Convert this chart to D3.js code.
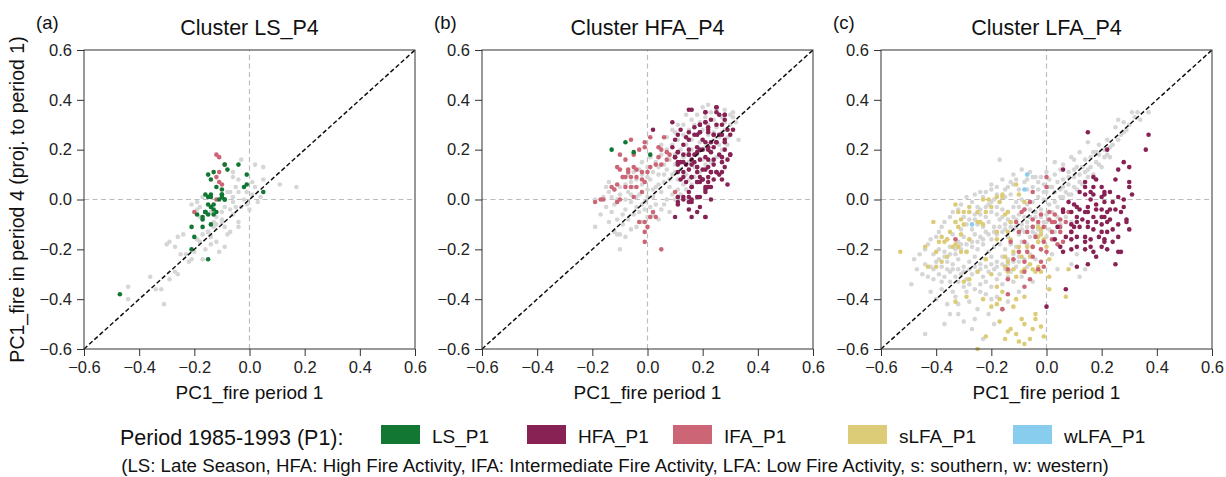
<!DOCTYPE html>
<html>
<head>
<meta charset="utf-8">
<script src="https://cdn.jsdelivr.net/npm/d3@7"></script>
<style>
  body { margin: 0; background: #fff; }
  svg { font-family: "Liberation Sans", Arial, sans-serif; }
</style>
</head>
<body>
<svg id="chart" width="1226" height="477"></svg>
<script>
// tick values shared by both axes
var ticks = [-0.6, -0.4, -0.2, 0.0, 0.2, 0.4, 0.6];

// legend categories (period 1 clusters)
var legendNames = ["LS_P1", "HFA_P1", "IFA_P1", "sLFA_P1", "wLFA_P1"];
var legendColors = ["#117733", "#882255", "#CC6677", "#DDCC77", "#88CCEE"];
var grayColor = "#d6d6d6";

// panel (a) Cluster LS_P4  [PC1 period 1, PC1 period 4]
var aGray = [[-0.03,0.16],[0.02,0.14],[0.05,0.13],[-0.06,0.11],[-0.04,0.08],[-0.06,0.09],[0.05,0.08],[0.01,0.07],[0.11,0.06],[0.17,0.05],
  [-0.07,0.03],[-0.08,0.03],[-0.06,0.01],[-0.04,0.03],[-0.01,0.03],[0.01,0.02],[0.03,-0.01],[-0.01,-0.02],[0.00,-0.04],[-0.05,-0.03],
  [-0.07,-0.04],[-0.09,-0.03],[-0.10,-0.05],[-0.12,-0.07],[-0.14,-0.05],[-0.21,-0.02],[-0.19,-0.04],[-0.18,-0.03],[-0.18,-0.07],[-0.13,-0.09],
  [-0.12,-0.10],[-0.10,-0.09],[-0.04,-0.09],[-0.04,-0.11],[-0.07,-0.13],[-0.13,-0.11],[-0.15,-0.13],[-0.17,-0.14],[-0.19,-0.16],[-0.18,-0.17],
  [-0.14,-0.18],[-0.12,-0.17],[-0.09,-0.19],[-0.11,-0.21],[-0.16,-0.20],[-0.24,-0.14],[-0.26,-0.15],[-0.27,-0.19],[-0.29,-0.17],[-0.30,-0.18],
  [-0.25,-0.22],[-0.22,-0.25],[-0.21,-0.24],[-0.17,-0.24],[-0.27,-0.29],[-0.26,-0.30],[-0.29,-0.32],[-0.36,-0.31],[-0.34,-0.36],[-0.32,-0.36],
  [-0.44,-0.35],[-0.44,-0.40],[-0.31,-0.42],[-0.23,-0.22],[-0.20,-0.21],[-0.15,-0.13],[-0.09,-0.11],[-0.06,-0.06],[-0.03,-0.03],[-0.02,0.00],
  [0.02,0.05],[0.04,0.01],[-0.05,0.05],[-0.06,-0.01],[-0.17,0.01],[-0.19,-0.01],[-0.10,-0.08],[-0.08,-0.14],[-0.14,-0.15]];
var aGreen = [[-0.47,-0.38],[-0.04,0.14],[-0.09,0.14],[-0.08,0.12],[-0.13,0.11],[-0.15,0.10],[-0.14,0.08],[-0.01,0.10],[-0.02,0.05],[-0.01,0.06],
  [0.05,0.03],[-0.12,0.05],[-0.10,0.04],[-0.10,0.02],[-0.10,0.02],[-0.14,0.02],[-0.16,0.02],[-0.15,0.01],[-0.14,0.01],[-0.11,0.00],
  [-0.09,0.00],[-0.09,0.00],[-0.13,-0.02],[-0.15,-0.02],[-0.14,-0.03],[-0.16,-0.05],[-0.16,-0.05],[-0.19,-0.06],[-0.15,-0.06],[-0.13,-0.06],
  [-0.12,-0.05],[-0.17,-0.08],[-0.14,-0.10],[-0.21,-0.11],[-0.17,-0.11],[-0.20,-0.15],[-0.21,-0.20],[-0.15,-0.24],[-0.16,-0.05],[-0.17,-0.07],
  [-0.13,-0.04],[-0.10,0.01]];
var aRose = [[-0.12,0.18],[-0.11,0.17],[-0.09,0.14],[-0.11,0.11],[-0.12,0.09],[-0.11,0.07],[-0.10,0.06],[-0.12,0.00],[-0.20,-0.05]];

// panel (b) Cluster HFA_P4
var bGray = [[-0.19,-0.11],[-0.10,-0.20],[-0.11,-0.14],[-0.10,-0.14],[-0.09,-0.10],[-0.15,0.05],[-0.14,0.07],[-0.19,0.00],[0.31,0.35],[0.33,0.24],
  [0.31,0.28],[0.32,0.31],[0.30,0.34],[0.28,0.36],[-0.12,-0.02],[-0.10,0.02],[-0.08,-0.04],[-0.07,0.03],[-0.06,-0.01],[-0.05,0.05],
  [-0.04,-0.03],[-0.03,0.02],[-0.02,0.06],[-0.01,-0.01],[0.00,0.04],[0.01,0.08],[0.02,0.01],[0.03,0.05],[0.04,0.10],[0.05,0.03],
  [0.06,0.07],[0.07,0.12],[0.08,0.05],[0.09,0.10],[0.10,0.14],[0.11,0.08],[0.12,0.12],[0.13,0.17],[0.14,0.10],[0.15,0.15],
  [0.16,0.20],[0.17,0.13],[0.18,0.18],[0.19,0.23],[0.20,0.16],[0.21,0.21],[0.22,0.26],[0.23,0.19],[0.24,0.24],[0.25,0.29],
  [0.26,0.22],[0.27,0.27],[0.28,0.31],[0.29,0.25],[0.30,0.30],[0.31,0.33],[0.27,0.33],[0.26,0.34],[0.24,0.32],[0.22,0.30],
  [0.20,0.28],[0.18,0.26],[0.16,0.24],[0.14,0.22],[0.12,0.20],[0.10,0.18],[0.08,0.16],[0.06,0.14],[0.04,0.13],[0.02,0.11],
  [0.00,0.09],[-0.02,0.10],[-0.04,0.08],[-0.06,0.07],[-0.08,0.06],[-0.10,0.05],[-0.12,0.04],[-0.14,0.03],[-0.16,0.01],[-0.13,-0.05],
  [-0.11,-0.08],[-0.09,-0.06],[-0.07,-0.08],[-0.05,-0.06],[-0.03,-0.05],[-0.01,-0.04],[0.01,-0.03],[0.03,-0.02],[0.05,-0.04],[0.07,0.00],
  [0.09,0.02],[0.11,0.04],[0.13,0.06],[0.15,0.08],[0.17,0.09],[0.19,0.11],[0.21,0.14],[0.23,0.15],[0.25,0.17],[0.27,0.20],
  [0.29,0.22],[0.03,0.15],[0.05,0.18],[0.07,0.20],[0.09,0.22],[0.11,0.24],[0.13,0.26],[0.15,0.28],[0.17,0.30],[0.19,0.31],
  [0.21,0.33],[0.23,0.35],[0.25,0.36],[0.00,0.13],[-0.02,0.15],[0.01,0.17],[0.06,0.10],[0.08,0.08],[0.10,0.11],[0.12,0.15],
  [0.14,0.18],[0.16,0.16],[0.18,0.21],[0.20,0.24],[0.22,0.22],[0.24,0.27],[0.26,0.25],[0.28,0.28],[-0.03,0.12],[-0.05,0.11],
  [-0.07,0.10],[-0.09,0.09],[-0.11,0.00],[-0.13,0.01],[-0.15,-0.03],[-0.08,0.00],[-0.06,0.02],[-0.04,0.01],[-0.02,-0.02],[0.00,0.01],
  [0.02,0.04],[0.04,0.06],[0.02,-0.06],[0.04,-0.08],[0.00,-0.07],[-0.02,-0.09],[-0.04,-0.11],[-0.06,-0.12],[-0.08,-0.15],[-0.12,-0.13],
  [-0.14,-0.09],[-0.17,-0.06],[0.06,-0.02],[0.08,-0.05],[0.10,0.00],[0.12,0.02],[0.14,0.04],[0.16,0.06],[0.05,0.22],[0.07,0.25],
  [0.10,0.27],[0.13,0.30],[0.16,0.32],[0.18,0.34],[0.20,0.37],[0.22,0.38],[0.14,0.34],[0.11,0.30],[0.09,0.28]];
var bWine = [[0.16,0.36],[0.09,0.31],[0.02,0.28],[0.12,0.28],[0.21,0.35],[0.25,0.37],[0.26,0.34],[0.28,0.34],[0.23,0.32],[0.21,0.31],
  [0.19,0.30],[0.27,0.30],[0.29,0.28],[0.27,0.26],[0.24,0.26],[0.22,0.28],[0.19,0.27],[0.18,0.26],[0.15,0.24],[0.14,0.25],
  [0.11,0.26],[0.10,0.24],[0.09,0.21],[0.13,0.22],[0.11,0.19],[0.13,0.18],[0.10,0.17],[0.12,0.15],[0.15,0.20],[0.17,0.18],
  [0.19,0.20],[0.21,0.23],[0.23,0.23],[0.25,0.23],[0.28,0.24],[0.30,0.18],[0.28,0.20],[0.26,0.18],[0.23,0.19],[0.21,0.17],
  [0.19,0.16],[0.17,0.15],[0.15,0.12],[0.16,0.09],[0.18,0.11],[0.20,0.12],[0.22,0.13],[0.24,0.14],[0.26,0.10],[0.25,0.11],
  [0.23,0.11],[0.22,0.09],[0.20,0.08],[0.22,0.05],[0.21,0.03],[0.19,0.07],[0.18,0.07],[0.16,0.05],[0.15,0.03],[0.16,0.00],
  [0.15,-0.01],[0.11,-0.01],[0.13,0.01],[0.18,-0.05],[0.16,-0.07],[0.21,-0.07],[0.23,0.00],[0.29,0.06],[0.30,0.18],[0.27,0.15],
  [0.18,0.13],[0.14,0.14],[0.11,0.14],[0.16,0.16],[0.15,0.18],[0.18,0.21],[0.24,0.21],[0.22,0.20],[0.20,0.24],[0.22,0.29],
  [0.25,0.30],[0.19,0.09],[0.24,0.08],[0.27,0.08],[0.21,0.05],[0.19,0.01],[0.12,0.08],[0.13,0.11],[0.11,0.11],
  [0.25,0.37],[0.15,0.36],[0.21,0.35],[0.28,0.34],[0.28,0.32],[0.25,0.35],[0.21,0.31],[0.19,0.30],[0.17,0.29],[0.15,0.27],
  [0.17,0.26],[0.19,0.27],[0.22,0.27],[0.24,0.26],[0.26,0.26],[0.30,0.26],[0.31,0.28],[0.28,0.23],[0.25,0.23],[0.22,0.21],
  [0.20,0.20],[0.18,0.19],[0.15,0.18],[0.11,0.19],[0.10,0.17],[0.11,0.15],[0.13,0.15],[0.16,0.14],[0.18,0.13],[0.21,0.12],
  [0.23,0.11],[0.25,0.11],[0.27,0.11],[0.28,0.13],[0.29,0.16],[0.27,0.17],[0.24,0.16],[0.22,0.16],[0.20,0.08],[0.22,0.07],
  [0.23,0.05],[0.21,0.04],[0.18,0.01],[0.15,0.01],[0.13,0.00],[0.11,0.01],[0.11,-0.02],[0.16,-0.01],[0.19,-0.03],[0.15,-0.04],
  [0.10,-0.07],[0.21,-0.07],[0.18,0.07],[0.16,0.09],[0.14,0.07],[0.13,0.09],[0.16,0.05]];
var bRose = [[-0.06,0.24],[-0.10,0.18],[-0.08,0.16],[-0.05,0.18],[-0.03,0.20],[-0.01,0.21],[-0.01,0.23],[0.01,0.25],[0.06,0.25],[0.05,0.20],
  [0.07,0.19],[0.04,0.17],[0.03,0.14],[0.01,0.13],[0.00,0.11],[-0.02,0.11],[-0.04,0.12],[-0.05,0.13],[-0.07,0.12],[-0.10,0.12],
  [-0.11,0.13],[-0.09,0.09],[-0.08,0.09],[-0.06,0.09],[-0.04,0.09],[-0.02,0.08],[-0.01,0.07],[-0.11,0.06],[-0.13,0.05],[-0.12,0.04],
  [-0.04,0.05],[-0.02,0.03],[-0.05,0.01],[-0.10,0.00],[-0.11,-0.01],[-0.16,0.00],[-0.17,0.00],[-0.19,-0.01],[0.02,-0.05],[0.03,-0.07],
  [0.01,-0.07],[-0.03,-0.09],[-0.01,-0.09],[0.00,-0.11],[-0.01,-0.13],[-0.01,-0.17],[0.05,-0.20],[0.11,0.01],[0.10,0.03],[0.07,0.16],
  [0.08,0.18],[0.05,0.14],[0.04,0.21],[-0.06,0.05],[-0.08,0.05],[-0.07,0.11]];
var bGreen = [[-0.13,0.20],[-0.08,0.23],[-0.05,0.19],[0.01,0.18]];

// panel (c) Cluster LFA_P4
var cGray = [[-0.49,-0.34],[-0.44,-0.54],[-0.37,-0.50],[-0.35,-0.46],[0.12,-0.31],[0.14,-0.28],[-0.17,0.16],[0.15,0.23],[0.26,0.32],[0.31,0.35],
  [0.33,0.35],[0.37,0.35],[0.22,0.24],[0.21,0.20],[0.12,0.19],[0.09,0.17],[0.25,0.29],[0.28,0.31],[0.19,0.22],[0.17,0.19],
  [0.14,0.16],[0.11,0.13],[0.08,0.11],[0.05,0.12],[0.03,0.10],[0.01,0.08],[-0.01,0.06],[-0.03,0.07],[-0.05,0.05],[-0.07,0.04],
  [0.00,0.03],[0.02,0.05],[0.04,0.07],[0.06,0.08],[0.08,0.06],[0.10,0.09],[0.12,0.10],[0.14,0.11],[0.16,0.13],[0.18,0.15],
  [0.13,0.06],[0.11,0.04],[0.09,0.02],[0.07,0.03],[0.05,0.01],[0.03,-0.01],[0.01,-0.02],[-0.01,0.00],[-0.03,0.01],[-0.05,-0.01],
  [-0.07,-0.02],[-0.09,0.00],[-0.11,-0.01],[-0.13,0.02],[-0.15,0.01],[-0.17,-0.01],[-0.19,0.00],[-0.21,-0.02],[-0.23,0.01],[-0.25,-0.03],
  [-0.14,0.05],[-0.10,0.04],[-0.12,0.06],[-0.08,0.07],[-0.02,-0.04],[0.00,-0.06],[0.02,-0.05],[0.04,-0.07],[0.06,-0.04],[-0.04,-0.05],
  [-0.06,-0.07],[-0.08,-0.04],[-0.10,-0.06],[-0.12,-0.03],[-0.14,-0.05],[-0.16,-0.04],[-0.18,-0.06],[-0.20,-0.05],[-0.22,-0.07],[-0.24,-0.06],
  [-0.26,-0.08],[-0.28,-0.05],[-0.30,-0.07],[-0.01,-0.09],[-0.03,-0.10],[-0.05,-0.11],[-0.07,-0.09],[-0.09,-0.10],[-0.11,-0.08],[-0.13,-0.09],
  [-0.15,-0.10],[-0.17,-0.08],[-0.19,-0.11],[-0.21,-0.09],[-0.23,-0.11],[-0.25,-0.10],[-0.27,-0.12],[-0.29,-0.10],[-0.31,-0.12],[-0.33,-0.09],
  [0.01,-0.12],[-0.02,-0.13],[-0.04,-0.14],[-0.06,-0.15],[-0.08,-0.13],[-0.10,-0.14],[-0.12,-0.12],[-0.14,-0.15],[-0.16,-0.13],[-0.18,-0.14],
  [-0.20,-0.16],[-0.22,-0.13],[-0.24,-0.15],[-0.26,-0.14],[-0.28,-0.16],[-0.30,-0.15],[-0.32,-0.17],[-0.34,-0.14],[-0.36,-0.16],[-0.03,-0.17],
  [-0.05,-0.19],[-0.07,-0.18],[-0.09,-0.17],[-0.11,-0.19],[-0.13,-0.18],[-0.15,-0.20],[-0.17,-0.18],[-0.19,-0.19],[-0.21,-0.21],[-0.23,-0.18],
  [-0.25,-0.20],[-0.27,-0.19],[-0.29,-0.21],[-0.31,-0.20],[-0.33,-0.22],[-0.35,-0.19],[-0.37,-0.21],[-0.39,-0.20],[-0.41,-0.22],[-0.06,-0.22],
  [-0.08,-0.24],[-0.10,-0.23],[-0.12,-0.22],[-0.14,-0.24],[-0.16,-0.23],[-0.18,-0.25],[-0.20,-0.23],[-0.22,-0.24],[-0.24,-0.26],[-0.26,-0.23],
  [-0.28,-0.25],[-0.30,-0.27],[-0.32,-0.24],[-0.34,-0.26],[-0.36,-0.25],[-0.38,-0.27],[-0.40,-0.25],[-0.42,-0.27],[-0.44,-0.26],[-0.11,-0.27],
  [-0.13,-0.29],[-0.15,-0.28],[-0.17,-0.30],[-0.19,-0.28],[-0.21,-0.29],[-0.23,-0.31],[-0.25,-0.29],[-0.27,-0.30],[-0.29,-0.32],[-0.31,-0.30],
  [-0.33,-0.31],[-0.35,-0.29],[-0.37,-0.31],[-0.39,-0.30],[-0.41,-0.32],[-0.45,-0.30],[-0.47,-0.28],[-0.12,-0.33],[-0.16,-0.34],[-0.20,-0.35],
  [-0.24,-0.34],[-0.26,-0.36],[-0.30,-0.35],[-0.34,-0.37],[-0.38,-0.36],[-0.22,-0.38],[-0.18,-0.39],[-0.28,-0.41],[-0.32,-0.42],[-0.25,-0.44],
  [-0.21,-0.46],[-0.19,-0.50],[-0.27,-0.52],[-0.23,-0.56],[0.06,0.14],[0.10,0.16],[0.00,0.11],[-0.04,0.09],[0.15,0.09],[0.17,0.10],
  [0.20,0.13],[0.23,0.17],[0.19,0.18],[0.27,0.26],[0.29,0.28],[0.24,0.22],[0.03,0.15],[-0.02,0.09],[0.07,-0.07],[0.09,-0.09],
  [0.05,-0.10],[0.03,-0.13],[0.00,-0.15],[-0.02,-0.20],[-0.04,-0.24],[-0.07,-0.27],[0.02,-0.22],[0.04,-0.28],[-0.09,-0.31],[-0.05,-0.33],
  [-0.10,-0.37],[-0.14,-0.41],[0.09,-0.26],[0.11,-0.22],[-0.16,0.08],[-0.20,0.04],[-0.24,0.03],[-0.18,0.02],[-0.12,0.10],[-0.06,0.11],
  [-0.09,0.12],[0.05,0.04],[-0.27,-0.01],[-0.32,-0.04],[-0.35,-0.07],[-0.38,-0.11],[-0.40,-0.15],[-0.43,-0.18],[-0.46,-0.22],[-0.48,-0.24],
  [-0.42,-0.37],[-0.40,-0.40],[-0.36,-0.42],[-0.32,-0.46],
  [-0.44,-0.20],[-0.42,-0.16],[-0.39,-0.13],[-0.37,-0.09],[-0.34,-0.05],[-0.31,-0.02],[-0.29,0.01],[-0.26,0.02],[-0.22,0.03],[-0.20,0.06],
  [-0.18,0.05],[-0.15,0.04],[-0.13,0.07],[-0.11,0.08],[-0.07,0.08],[-0.05,0.09],[-0.03,0.04],[-0.01,0.03],[0.01,0.05],[0.03,0.03],
  [0.06,0.05],[0.08,0.09],[0.10,0.12],[0.13,0.13],[0.16,0.17],[0.18,0.19],[0.21,0.17],[0.23,0.21],[0.26,0.24],[0.28,0.27],
  [0.30,0.30],[0.32,0.33],[0.34,0.32],[-0.43,-0.31],[-0.41,-0.28],[-0.39,-0.24],[-0.37,-0.23],[-0.35,-0.22],[-0.33,-0.20],[-0.31,-0.18],
  [-0.29,-0.18],[-0.27,-0.17],[-0.25,-0.17],[-0.23,-0.16],[-0.21,-0.14],[-0.19,-0.13],[-0.17,-0.11],[-0.15,-0.12],[-0.13,-0.11],[-0.11,-0.11],
  [-0.09,-0.12],[-0.07,-0.11],[-0.05,-0.13],[-0.03,-0.12],[-0.36,-0.28],[-0.34,-0.28],[-0.32,-0.28],[-0.30,-0.29],[-0.28,-0.28],[-0.26,-0.27],
  [-0.24,-0.28],[-0.22,-0.27],[-0.20,-0.26],[-0.18,-0.27],[-0.16,-0.26],[-0.14,-0.26],[-0.12,-0.25],[-0.10,-0.25],[-0.38,-0.33],[-0.35,-0.33],
  [-0.32,-0.33],[-0.28,-0.34],[-0.22,-0.33],[-0.18,-0.32],[-0.14,-0.31],[-0.33,-0.39],[-0.29,-0.37],[-0.24,-0.37],[-0.20,-0.40],[-0.16,-0.44],
  [-0.26,-0.48],[-0.30,-0.49],[-0.28,-0.08],[-0.26,-0.06],[-0.24,-0.04],[-0.22,-0.03],[-0.20,-0.01],[-0.18,-0.03],[-0.16,-0.07],[-0.14,-0.08],
  [-0.12,-0.07],[-0.10,-0.03],[-0.08,-0.07],[-0.06,-0.04],[-0.04,-0.07],[-0.02,-0.07],[0.00,-0.09],[0.02,-0.09],[0.04,-0.03],[0.06,0.01],
  [0.08,0.02],[0.10,0.05],[0.12,0.07],[0.15,0.12],[0.19,0.14],[0.22,0.18]];
var cWine = [[0.15,0.27],[0.37,0.26],[0.36,0.20],[0.06,0.12],[0.26,0.12],[0.28,0.15],[0.30,0.13],[0.22,0.20],[0.18,0.08],[0.17,0.09],
  [0.20,0.05],[0.21,0.03],[0.25,0.08],[0.30,0.07],[0.30,0.05],[0.31,0.02],[0.28,0.00],[0.26,0.01],[0.24,-0.01],[0.25,-0.04],
  [0.27,-0.05],[0.29,-0.08],[0.30,-0.12],[0.26,-0.10],[0.24,-0.12],[0.22,-0.09],[0.21,-0.07],[0.20,-0.04],[0.18,-0.02],[0.16,0.00],
  [0.14,0.02],[0.12,0.03],[0.14,0.05],[0.16,0.03],[0.17,0.02],[0.20,0.01],[0.21,-0.01],[0.23,-0.04],[0.22,-0.05],[0.20,-0.07],
  [0.17,-0.07],[0.15,-0.05],[0.14,-0.05],[0.12,-0.04],[0.10,-0.02],[0.08,-0.01],[0.06,-0.04],[0.06,-0.05],[0.09,-0.05],[0.11,-0.07],
  [0.13,-0.08],[0.15,-0.09],[0.18,-0.09],[0.20,-0.10],[0.22,-0.13],[0.20,-0.13],[0.17,-0.12],[0.15,-0.11],[0.12,-0.11],[0.10,-0.11],
  [0.09,-0.13],[0.07,-0.15],[0.09,-0.16],[0.11,-0.15],[0.14,-0.15],[0.16,-0.16],[0.19,-0.15],[0.21,-0.16],[0.24,-0.17],[0.22,-0.20],
  [0.20,-0.19],[0.17,-0.21],[0.14,-0.20],[0.11,-0.19],[0.09,-0.20],[0.06,-0.21],[0.05,-0.19],[0.11,-0.27],[0.15,-0.26],[0.18,-0.23],
  [0.25,-0.26],[0.27,-0.21],[0.26,-0.21],[0.07,-0.36],[0.00,-0.43],[0.11,-0.03],[0.15,-0.03],[0.18,-0.04],[0.17,0.05],[0.14,0.07],
  [0.21,0.02],[0.23,0.03],[0.28,-0.03],[0.29,-0.09],[0.23,-0.08],[0.09,-0.10],[0.11,-0.09],[0.26,-0.15],[0.16,-0.19],[0.14,-0.17],
  [0.21,-0.17],[0.03,-0.16],[0.04,-0.11]];
var cRose = [[0.00,0.09],[-0.05,0.03],[0.00,0.05],[-0.06,-0.01],[-0.08,-0.04],[-0.11,-0.09],[-0.10,-0.13],[-0.08,-0.17],[-0.07,-0.13],[-0.05,-0.11],
  [-0.03,-0.09],[-0.02,-0.06],[0.01,-0.08],[0.02,-0.09],[0.03,-0.09],[0.05,-0.11],[0.02,-0.13],[0.02,-0.16],[0.04,-0.18],[-0.01,-0.17],
  [-0.02,-0.20],[-0.05,-0.19],[-0.07,-0.21],[-0.05,-0.23],[-0.02,-0.25],[-0.01,-0.27],[-0.03,-0.28],[-0.08,-0.25],[-0.10,-0.21],[-0.12,-0.24],
  [-0.14,-0.28],[-0.14,-0.32],[-0.14,-0.38],[-0.16,-0.44],[-0.08,-0.29],[-0.06,-0.32],[-0.33,-0.16],[0.05,-0.08],[0.07,-0.09],[0.09,-0.13],
  [0.08,-0.05],[-0.01,-0.11],[-0.04,-0.15],[0.00,-0.21],[-0.05,-0.08],[-0.09,-0.05],[-0.13,-0.17],[0.01,-0.05],[0.03,-0.06],[0.05,-0.13],
  [0.06,-0.17],[-0.08,-0.35]];
var cSand = [[-0.53,-0.21],[-0.44,-0.19],[-0.41,-0.09],[-0.39,-0.17],[-0.37,-0.17],[-0.36,-0.16],[-0.40,-0.21],[-0.43,-0.27],[-0.40,-0.27],[-0.38,-0.25],
  [-0.36,-0.23],[-0.33,-0.02],[-0.32,-0.05],[-0.31,-0.08],[-0.33,-0.09],[-0.32,-0.11],[-0.33,-0.18],[-0.32,-0.19],[-0.31,-0.21],[-0.30,-0.05],
  [-0.28,-0.05],[-0.30,-0.10],[-0.28,-0.16],[-0.29,-0.21],[-0.28,-0.32],[-0.30,-0.33],[-0.33,-0.41],[-0.29,-0.39],[-0.25,-0.05],[-0.24,-0.09],
  [-0.23,-0.10],[-0.25,-0.09],[-0.22,-0.05],[-0.21,0.00],[-0.23,0.00],[-0.20,-0.03],[-0.18,0.01],[-0.16,0.01],[-0.16,0.02],[-0.17,-0.01],
  [-0.15,-0.06],[-0.14,-0.05],[-0.13,-0.09],[-0.11,0.06],[-0.08,-0.01],[-0.18,-0.13],[-0.18,-0.16],[-0.15,-0.23],[-0.14,-0.25],[-0.15,-0.27],
  [-0.14,-0.29],[-0.12,-0.28],[-0.11,-0.31],[-0.09,-0.29],[-0.08,-0.28],[-0.06,-0.26],[-0.05,-0.28],[-0.04,-0.29],[-0.03,-0.27],[-0.02,-0.29],
  [-0.06,-0.23],[-0.05,-0.19],[-0.03,-0.17],[-0.03,-0.15],[-0.02,-0.14],[-0.02,-0.12],[0.01,-0.31],[0.01,-0.36],[0.07,-0.39],[0.08,-0.28],
  [0.01,-0.24],[-0.18,-0.42],[-0.17,-0.40],[-0.17,-0.49],[-0.14,-0.53],[-0.13,-0.52],[-0.15,-0.56],[-0.11,-0.54],[-0.09,-0.48],[-0.08,-0.50],
  [-0.08,-0.58],[-0.10,-0.57],[-0.06,-0.56],[-0.05,-0.52],[-0.04,-0.46],[-0.04,-0.48],[-0.02,-0.51],[-0.01,-0.55],[-0.12,-0.43],[-0.11,-0.40],
  [-0.08,-0.39],[-0.22,-0.55],[-0.25,-0.60],[-0.20,-0.43],[-0.23,-0.40],[-0.25,-0.29],[-0.22,-0.24],[-0.20,-0.30],[-0.18,-0.35],[-0.16,-0.37],
  [-0.07,-0.19],[-0.09,-0.23],[-0.10,-0.19],[-0.12,-0.21],[-0.13,-0.16],[-0.14,-0.13],[-0.03,-0.11],[-0.01,-0.16],[0.00,-0.19],[-0.10,0.02],
  [-0.28,-0.03],[-0.31,-0.14],[-0.34,-0.19],[-0.35,-0.13],[-0.38,-0.15]];
var cCyan = [[-0.07,0.10],[-0.08,0.04],[-0.27,-0.10]];

var panels = [
  { letter: "(a)", title: "Cluster LS_P4", left: 84,
    groups: [[aGray, grayColor], [aRose, legendColors[2]], [aGreen, legendColors[0]]] },
  { letter: "(b)", title: "Cluster HFA_P4", left: 482,
    groups: [[bGray, grayColor], [bRose, legendColors[2]], [bWine, legendColors[1]], [bGreen, legendColors[0]]] },
  { letter: "(c)", title: "Cluster LFA_P4", left: 881,
    groups: [[cGray, grayColor], [cSand, legendColors[3]], [cRose, legendColors[2]], [cWine, legendColors[1]], [cCyan, legendColors[4]]] }
];

var svg = d3.select("#chart");
var pw = 331, plotTop = 50, ph = 299;

function fmt(v) {
  return d3.format(".1f")(v).replace("-", "\u2212");
}

panels.forEach(function(p, i) {
  var x = d3.scaleLinear().domain([-0.6, 0.6]).range([p.left, p.left + pw]);
  var y = d3.scaleLinear().domain([-0.6, 0.6]).range([plotTop + ph, plotTop]);
  var g = svg.append("g");

  // zero reference lines
  g.append("line").attr("x1", x(0)).attr("x2", x(0)).attr("y1", y(-0.6)).attr("y2", y(0.6))
    .attr("stroke", "#bdbdbd").attr("stroke-width", 1.2).attr("stroke-dasharray", "5,3.5");
  g.append("line").attr("x1", x(-0.6)).attr("x2", x(0.6)).attr("y1", y(0)).attr("y2", y(0))
    .attr("stroke", "#bdbdbd").attr("stroke-width", 1.2).attr("stroke-dasharray", "5,3.5");

  // points
  p.groups.forEach(function(gr) {
    g.selectAll(null).data(gr[0]).enter().append("circle")
      .attr("cx", function(d) { return x(d[0]); })
      .attr("cy", function(d) { return y(d[1]); })
      .attr("r", 2.3)
      .attr("fill", gr[1]);
  });

  // 1:1 line
  g.append("line").attr("x1", x(-0.6)).attr("y1", y(-0.6)).attr("x2", x(0.6)).attr("y2", y(0.6))
    .attr("stroke", "#111").attr("stroke-width", 1.5).attr("stroke-dasharray", "4.5,2.5");

  // frame
  g.append("rect").attr("x", x(-0.6)).attr("y", y(0.6)).attr("width", pw).attr("height", ph)
    .attr("fill", "none").attr("stroke", "#333").attr("stroke-width", 1);

  var xAxis = g.append("g").attr("transform", "translate(0," + (plotTop + ph) + ")")
    .call(d3.axisBottom(x).tickValues(ticks).tickFormat(fmt).tickSize(7).tickPadding(5));
  var yAxis = g.append("g").attr("transform", "translate(" + p.left + ",0)")
    .call(d3.axisLeft(y).tickValues(ticks).tickFormat(fmt).tickSize(7).tickPadding(5));
  [xAxis, yAxis].forEach(function(a) {
    a.select(".domain").remove();
    a.selectAll("line").attr("stroke", "#333");
    a.selectAll("text").attr("font-size", 16.5).attr("fill", "#222")
      .attr("font-family", "Liberation Sans, Arial, sans-serif");
  });

  g.append("text").attr("x", p.left + pw / 2).attr("y", 35).attr("text-anchor", "middle")
    .attr("font-size", 21.5).attr("fill", "#111").text(p.title);
  g.append("text").attr("x", p.left - 48).attr("y", 29)
    .attr("font-size", 18.5).attr("fill", "#111").text(p.letter);
  g.append("text").attr("x", p.left + pw / 2).attr("y", 399).attr("text-anchor", "middle")
    .attr("font-size", 19).attr("fill", "#111").text("PC1_fire period 1");
});

svg.append("text").attr("transform", "translate(24," + (plotTop + ph / 2) + ") rotate(-90)")
  .attr("text-anchor", "middle").attr("font-size", 19.5).attr("fill", "#111")
  .text("PC1_fire in period 4 (proj. to period 1)");

// legend
var legX = [381, 527, 673, 848, 1013];
svg.append("text").attr("x", 120).attr("y", 445).attr("font-size", 21.5).attr("fill", "#111")
  .text("Period 1985-1993 (P1):");
legendNames.forEach(function(n, i) {
  svg.append("rect").attr("x", legX[i]).attr("y", 425).attr("width", 39).attr("height", 19)
    .attr("fill", legendColors[i]);
  svg.append("text").attr("x", legX[i] + 51).attr("y", 443).attr("font-size", 19).attr("fill", "#111")
    .text(n);
});

svg.append("text").attr("x", 615).attr("y", 472).attr("text-anchor", "middle")
  .attr("font-size", 18.7).attr("fill", "#111")
  .text("(LS: Late Season, HFA: High Fire Activity, IFA: Intermediate Fire Activity, LFA: Low Fire Activity, s: southern, w: western)");
</script>
</body>
</html>
